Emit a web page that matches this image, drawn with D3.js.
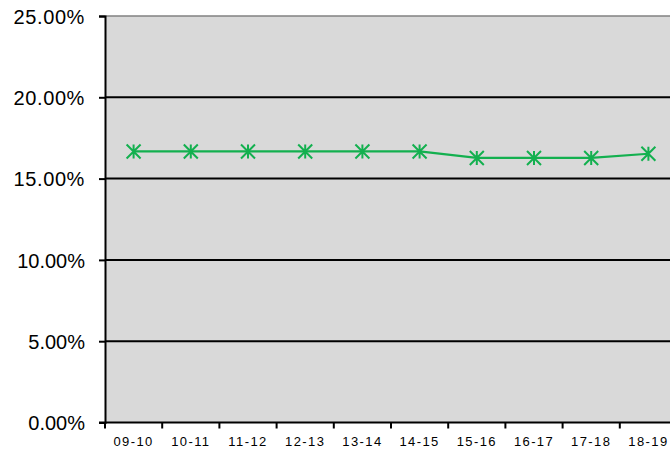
<!DOCTYPE html>
<html><head><meta charset="utf-8">
<script src="https://cdn.jsdelivr.net/npm/d3@7"></script>
<style>
html,body{margin:0;padding:0;background:#fff;}
svg{display:block;font-family:"Liberation Sans",Arial,sans-serif;}
</style></head>
<body>
<svg id="c" width="670" height="449"></svg>
<script>
const categories = ["09-10","10-11","11-12","12-13","13-14","14-15","15-16","16-17","17-18","18-19"];
const values = [16.67,16.67,16.67,16.67,16.67,16.67,16.27,16.27,16.27,16.53];
const yTicks = [0,5,10,15,20,25];

(function(){
const svg = d3.select("#c");
const pL = 105, pR = 677, pT = 16, pB = 422.5;
const x = d3.scaleBand().domain(categories).range([pL, pR]).padding(0);
const y = d3.scaleLinear().domain([0,25]).range([pB, pT]);

svg.append("rect").attr("x",pL).attr("y",pT).attr("width",pR-pL).attr("height",pB-pT).attr("fill","#d9d9d9");

// gridlines
svg.selectAll("line.grid").data(yTicks.filter(d=>d>0&&d<25)).join("line")
  .attr("x1",pL).attr("x2",pR).attr("y1",d=>y(d)).attr("y2",d=>y(d))
  .attr("stroke","#000").attr("stroke-width",2);
svg.append("line").attr("x1",pL).attr("x2",pR).attr("y1",y(25)).attr("y2",y(25))
  .attr("stroke","#808080").attr("stroke-width",1.5);

// y axis
const yAxis = d3.axisLeft(y).tickValues(yTicks).tickSize(6).tickPadding(14)
  .tickFormat(d=>d3.format(".2f")(d)+"%");
const ga = svg.append("g").attr("transform",`translate(${pL},0)`).call(yAxis);
ga.select(".domain").attr("stroke","#000").attr("stroke-width",2);
ga.selectAll(".tick line").attr("stroke","#000").attr("stroke-width",2);
ga.selectAll(".tick text").attr("font-size",20).attr("fill","#000")
  .attr("font-family","'Liberation Sans',Arial,sans-serif").attr("dy","0.36em")
  .attr("letter-spacing",d=>d>=15?"0.6px":"0px");

// x axis
const xAxis = d3.axisBottom(x).tickSize(0).tickPadding(14);
const gx = svg.append("g").attr("transform",`translate(0,${pB})`).call(xAxis);
gx.select(".domain").remove();
gx.selectAll(".tick text").attr("font-size",13).attr("fill","#000").attr("letter-spacing","1.4px")
  .attr("font-family","'Liberation Sans',Arial,sans-serif");
svg.append("line").attr("x1",pL-6).attr("x2",pR).attr("y1",pB).attr("y2",pB).attr("stroke","#000").attr("stroke-width",2);
svg.selectAll("line.xt").data(categories).join("line")
  .attr("x1",d=>x(d)).attr("x2",d=>x(d)).attr("y1",pB).attr("y2",pB+6)
  .attr("stroke","#000").attr("stroke-width",2);

// line
const green = "#13b04f";
const line = d3.line().x((d,i)=>x(categories[i])+x.bandwidth()/2).y(d=>y(d));
svg.append("path").datum(values).attr("d",line).attr("fill","none").attr("stroke",green).attr("stroke-width",2.2);

// markers (asterisk)
const g = svg.selectAll("g.m").data(values).join("g")
  .attr("transform",(d,i)=>`translate(${x(categories[i])+x.bandwidth()/2},${y(d)})`);
const s = 7;
g.append("path").attr("d",`M${-s},${-s}L${s},${s}M${-s},${s}L${s},${-s}M0,${-s}L0,${s}`)
  .attr("stroke",green).attr("stroke-width",2).attr("fill","none");
})();
</script>
</body></html>
